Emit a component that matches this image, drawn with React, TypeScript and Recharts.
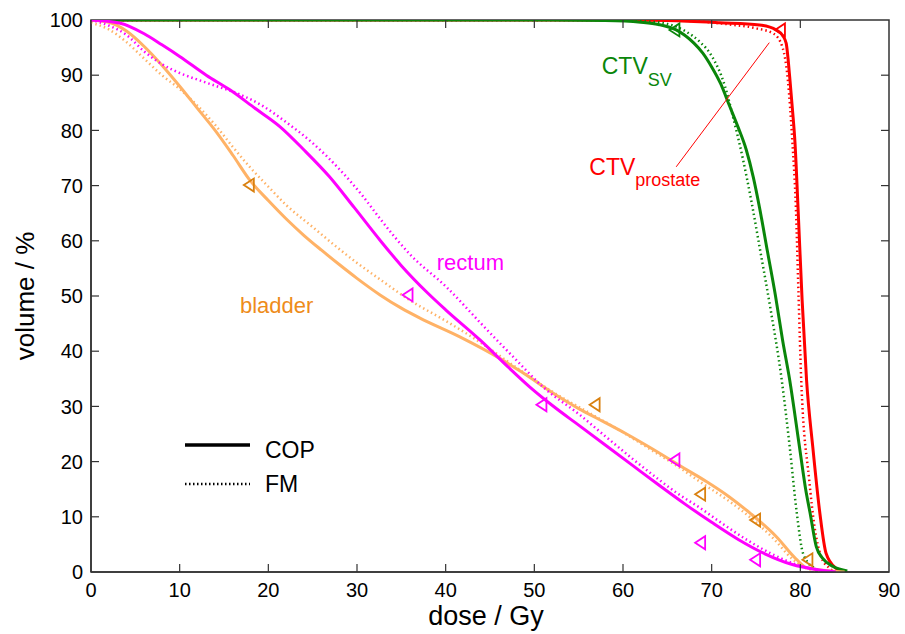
import React from 'react'
import {
  ComposedChart,
  Line,
  Scatter,
  XAxis,
  YAxis,
  ReferenceDot,
  ReferenceLine,
  ReferenceArea,
  Customized,
} from 'recharts'

type Pt = [number, number]

const xTicks = [0, 10, 20, 30, 40, 50, 60, 70, 80, 90]
const yTicks = [0, 10, 20, 30, 40, 50, 60, 70, 80, 90, 100]

// dose (Gy) vs volume (%)
const bladderCOP: Pt[] = [
  [0, 100], [2, 99.6], [4, 98], [6, 95.2], [8, 91.8], [10, 88], [12, 84], [14, 80], [16, 75.5],
  [18, 70.8], [20, 67.3], [22, 64], [24, 61], [26, 58.3], [28, 55.7], [30, 53.2], [32.6, 50.2],
  [35, 47.8], [37.1, 46], [41.6, 42.6], [46.1, 38.7], [48.4, 36.4], [52.9, 31.6], [55.1, 29.5],
  [57, 27.9], [60.4, 25], [63, 22.6], [67.2, 18.5], [69.4, 16.4], [72, 13.6], [74.3, 10.7],
  [77.3, 6.4], [79.5, 2.4], [80.7, 0.8], [83.4, 0.2], [85, 0],
]
const bladderFM: Pt[] = [
  [0, 99.5], [2, 98.3], [4, 96], [6, 93], [8, 90], [10, 87.5], [12, 84.5], [14, 81], [16, 77],
  [18, 73.2], [20, 69.8], [22, 66.5], [25, 62.5], [28, 58.5], [30, 56], [32.6, 53], [36, 49.2],
  [40, 45.5], [44, 41.5], [48, 37], [52, 32.7], [56, 29], [60, 25.3], [63, 22.3], [66, 19.3],
  [69, 16], [72, 12.8], [75, 9], [77, 6], [79, 2.5], [80.5, 0.8], [82, 0.2], [84, 0],
]
const rectumCOP: Pt[] = [
  [0, 100], [3.3, 99.4], [6, 97.5], [8, 95.5], [10, 93.4], [13, 90], [15.7, 87.3], [18.5, 84],
  [21.3, 80.7], [24, 76.5], [26.9, 71.6], [29.7, 66], [32.6, 60.1], [35, 55.5], [38, 50.5],
  [40, 47.5], [43.9, 42], [47, 37.2], [49.5, 33.5], [52, 30.2], [55, 26.6], [58, 23], [61, 19.4],
  [64, 15.8], [67, 12.3], [70, 9], [73, 5.9], [76, 3.3], [79, 1.4], [82, 0.4], [84, 0],
]
const rectumFM: Pt[] = [
  [0, 100], [2, 99], [4, 97.3], [6, 94.3], [8, 92], [10, 90.4], [12, 89.2], [14, 88.1],
  [16.5, 86.7], [19.4, 84.4], [22, 81.5], [25, 77.7], [28, 73], [30.7, 68], [32.6, 64], [36, 57.5],
  [40.1, 51.6], [44, 45], [47.6, 39], [51, 33.5], [55.1, 28.5], [58, 24.6], [61, 20.6], [64, 16.8],
  [66, 14.4], [68.7, 11.6], [71, 9], [74, 5.8], [77, 3.1], [80, 1.1], [82, 0.3], [83, 0],
]
const svCOP: Pt[] = [
  [0, 100], [50, 100], [58, 99.9], [62, 99.6], [64, 99.2], [66, 98.2], [68, 95.8], [69, 94],
  [70, 91.5], [71, 88.5], [72, 84.5], [73, 80.5], [73.9, 76.5], [74.7, 71.5], [75.4, 66], [76.3, 58],
  [77.2, 50], [78, 42], [78.8, 34.8], [79.9, 22.7], [80.6, 15], [81.1, 10.7], [81.8, 4.6],
  [82.5, 2.5], [83.7, 1], [85.3, 0.2],
]
const svFM: Pt[] = [
  [0, 100], [55, 100], [60, 99.9], [63, 99.7], [65, 99.3], [67, 98], [68.7, 96], [70, 93.5],
  [71.5, 88], [72.4, 82.5], [73.5, 75], [74.5, 67], [75.5, 58], [76.6, 48], [77.9, 34.8],
  [78.8, 22.7], [79.6, 10.7], [80.3, 3.4], [81.4, 0.9], [83, 0],
]
const prostateCOP: Pt[] = [
  [0, 100], [60, 100], [65, 99.9], [70.9, 99.5], [75.4, 99.1], [77.3, 98.2], [78, 97.2],
  [78.4, 95.8], [78.8, 89.7], [79.1, 84], [79.4, 77.7], [79.75, 65.6], [80.2, 49.3], [80.7, 34.8],
  [81.4, 22.7], [82.2, 10.7], [82.9, 3.4], [84, 0.7], [85, 0],
]
const prostateFM: Pt[] = [
  [0, 100], [62, 100], [68, 99.8], [72, 99.2], [75, 98.5], [77, 97.5], [78, 95], [78.6, 89],
  [79.1, 78], [79.5, 66], [79.8, 50], [80.1, 34.8], [81, 16.7], [81.6, 8.2], [82.3, 3],
  [83.2, 0.8], [84, 0],
]

// triangle markers
const bladderMarks: Pt[] = [[17.8, 70.1], [56.8, 30.3], [68.7, 14.1], [74.9, 9.4], [80.8, 2.2]]
const rectumMarks: Pt[] = [[35.7, 50.2], [50.8, 30.3], [65.8, 20.3], [68.7, 5.3], [74.9, 2.2]]
const svMarks: Pt[] = [[65.8, 98.2]]
const prostateMarks: Pt[] = [[77.7, 98.2]]

// pointer from the CTV prostate label to its marker
const prostatePointer: Pt[] = [[66, 73.4], [76.5, 95.9]]

const ORANGE = '#ffb266'
const ORANGE_DARK = '#d9800f'
const ORANGE_TEXT = '#ee8c1a'
const MAGENTA = '#ff00ff'
const GREEN = '#0a860a'
const RED = '#ff0000'
const AXIS = '#333'
const FONT = '"Liberation Sans", Arial, Helvetica, sans-serif'

const W = 905
const H = 634
const MARGIN = { top: 20, right: 16, bottom: 0, left: 0 }
const PLOT_TOP = MARGIN.top
const PLOT_RIGHT = W - MARGIN.right
const TICK_LEN = 8
const X_MARGIN = 11
const Y_MARGIN = 8

const toRows = (pts: Pt[]) => pts.map(([x, y]) => ({ x, y }))

const XTick = (p: any) => {
  const { x, y, payload } = p
  const axisY = y - X_MARGIN
  const v = payload.value
  const inner = v !== 0 && v !== 90
  return (
    <g>
      {inner && <line x1={x} x2={x} y1={axisY} y2={axisY - TICK_LEN} stroke={AXIS} strokeWidth={1.2} />}
      {inner && <line x1={x} x2={x} y1={PLOT_TOP} y2={PLOT_TOP + TICK_LEN} stroke={AXIS} strokeWidth={1.2} />}
      <text x={x} y={y} dy="0.71em" textAnchor="middle" fontSize={20} fill="#000" fontFamily={FONT}>
        {v}
      </text>
    </g>
  )
}

const YTick = (p: any) => {
  const { x, y, payload } = p
  const axisX = x + Y_MARGIN
  const v = payload.value
  const inner = v !== 0 && v !== 100
  return (
    <g>
      {inner && <line x1={axisX} x2={axisX + TICK_LEN} y1={y} y2={y} stroke={AXIS} strokeWidth={1.2} />}
      {inner && <line x1={PLOT_RIGHT - TICK_LEN} x2={PLOT_RIGHT} y1={y} y2={y} stroke={AXIS} strokeWidth={1.2} />}
      <text x={x} y={y} dy="0.36em" textAnchor="end" fontSize={20} fill="#000" fontFamily={FONT}>
        {v}
      </text>
    </g>
  )
}

const triangle = (color: string) => (p: any) => {
  const { cx, cy } = p
  if (cx == null || cy == null) return <g />
  return (
    <polygon
      points={`${cx - 5},${cy} ${cx + 5},${cy - 6.5} ${cx + 5},${cy + 6.5}`}
      fill="none"
      stroke={color}
      strokeWidth={1.8}
    />
  )
}

const label = (main: string, sub: string | null, color: string, size: number, subSize: number, subDy: number) =>
  (p: any) => (
    <text x={p.cx} y={p.cy} fill={color} fontSize={size} fontFamily={FONT}>
      {main}
      {sub && (
        <tspan dy={subDy} fontSize={subSize}>
          {sub}
        </tspan>
      )}
    </text>
  )

const legendItems = [
  { name: 'COP', dash: undefined as string | undefined, width: 3.5 },
  { name: 'FM', dash: '1.5 2.5', width: 2.5 },
]

const Overlay = () => (
  <g fontFamily={FONT}>
    <text x={486} y={625} textAnchor="middle" fontSize={27} fill="#000">
      dose / Gy
    </text>
    <text x={34} y={296} textAnchor="middle" fontSize={26} fill="#000" transform="rotate(-90 34 296)">
      volume / %
    </text>
    {legendItems.map((it, i) => (
      <g key={it.name}>
        <line x1={185} x2={250} y1={445 + i * 39} y2={445 + i * 39} stroke="#000" strokeWidth={it.width} strokeDasharray={it.dash} />
        <text x={265} y={458 + i * 34} fontSize={23} fill="#000">
          {it.name}
        </text>
      </g>
    ))}
  </g>
)

const dotted = '1.5 3'

export default function App() {
  return (
    <div style={{ position: 'absolute', left: 0, top: 0, width: W, height: H, background: '#fff' }}>
      <ComposedChart width={W} height={H} margin={MARGIN}>
        <XAxis
          type="number"
          dataKey="x"
          domain={[0, 90]}
          ticks={xTicks}
          interval={0}
          allowDataOverflow
          height={62}
          tickSize={0}
          tickMargin={X_MARGIN}
          tickLine={false}
          axisLine={{ stroke: AXIS, strokeWidth: 1.5 }}
          tick={XTick}
        />
        <YAxis
          type="number"
          dataKey="y"
          domain={[0, 100]}
          ticks={yTicks}
          interval={0}
          allowDataOverflow
          width={91}
          tickSize={0}
          tickMargin={Y_MARGIN}
          tickLine={false}
          axisLine={{ stroke: AXIS, strokeWidth: 1.5 }}
          tick={YTick}
        />
        <ReferenceArea x1={0} x2={90} y1={0} y2={100} fill="none" stroke={AXIS} strokeWidth={1.5} ifOverflow="visible" />

        <Line data={toRows(prostateFM)} dataKey="y" type="monotone" stroke={RED} strokeWidth={2.5} strokeDasharray={dotted} dot={false} isAnimationActive={false} />
        <Line data={toRows(prostateCOP)} dataKey="y" type="monotone" stroke={RED} strokeWidth={3} dot={false} isAnimationActive={false} />
        <Line data={toRows(svFM)} dataKey="y" type="monotone" stroke={GREEN} strokeWidth={2.5} strokeDasharray={dotted} dot={false} isAnimationActive={false} />
        <Line data={toRows(svCOP)} dataKey="y" type="monotone" stroke={GREEN} strokeWidth={3} dot={false} isAnimationActive={false} />
        <Line data={toRows(bladderFM)} dataKey="y" type="monotone" stroke={ORANGE} strokeWidth={2.5} strokeDasharray={dotted} dot={false} isAnimationActive={false} />
        <Line data={toRows(bladderCOP)} dataKey="y" type="monotone" stroke={ORANGE} strokeWidth={3} dot={false} isAnimationActive={false} />
        <Line data={toRows(rectumFM)} dataKey="y" type="monotone" stroke={MAGENTA} strokeWidth={2.5} strokeDasharray={dotted} dot={false} isAnimationActive={false} />
        <Line data={toRows(rectumCOP)} dataKey="y" type="monotone" stroke={MAGENTA} strokeWidth={3} dot={false} isAnimationActive={false} />

        <Scatter data={toRows(bladderMarks)} dataKey="y" shape={triangle(ORANGE_DARK)} isAnimationActive={false} />
        <Scatter data={toRows(rectumMarks)} dataKey="y" shape={triangle(MAGENTA)} isAnimationActive={false} />
        <Scatter data={toRows(svMarks)} dataKey="y" shape={triangle(GREEN)} isAnimationActive={false} />
        <Scatter data={toRows(prostateMarks)} dataKey="y" shape={triangle(RED)} isAnimationActive={false} />

        <ReferenceLine
          segment={prostatePointer.map(([x, y]) => ({ x, y }))}
          stroke={RED}
          strokeWidth={1}
        />

        <ReferenceDot x={57.6} y={90.3} r={0} shape={label('CTV', 'SV', GREEN, 23, 18, 12.7)} />
        <ReferenceDot x={56.2} y={72} r={0} shape={label('CTV', 'prostate', RED, 23, 18, 11)} />
        <ReferenceDot x={39} y={54.7} r={0} shape={label('rectum', null, MAGENTA, 22, 0, 0)} />
        <ReferenceDot x={16.8} y={46.9} r={0} shape={label('bladder', null, ORANGE_TEXT, 22, 0, 0)} />

        <Customized component={Overlay} />
      </ComposedChart>
    </div>
  )
}
